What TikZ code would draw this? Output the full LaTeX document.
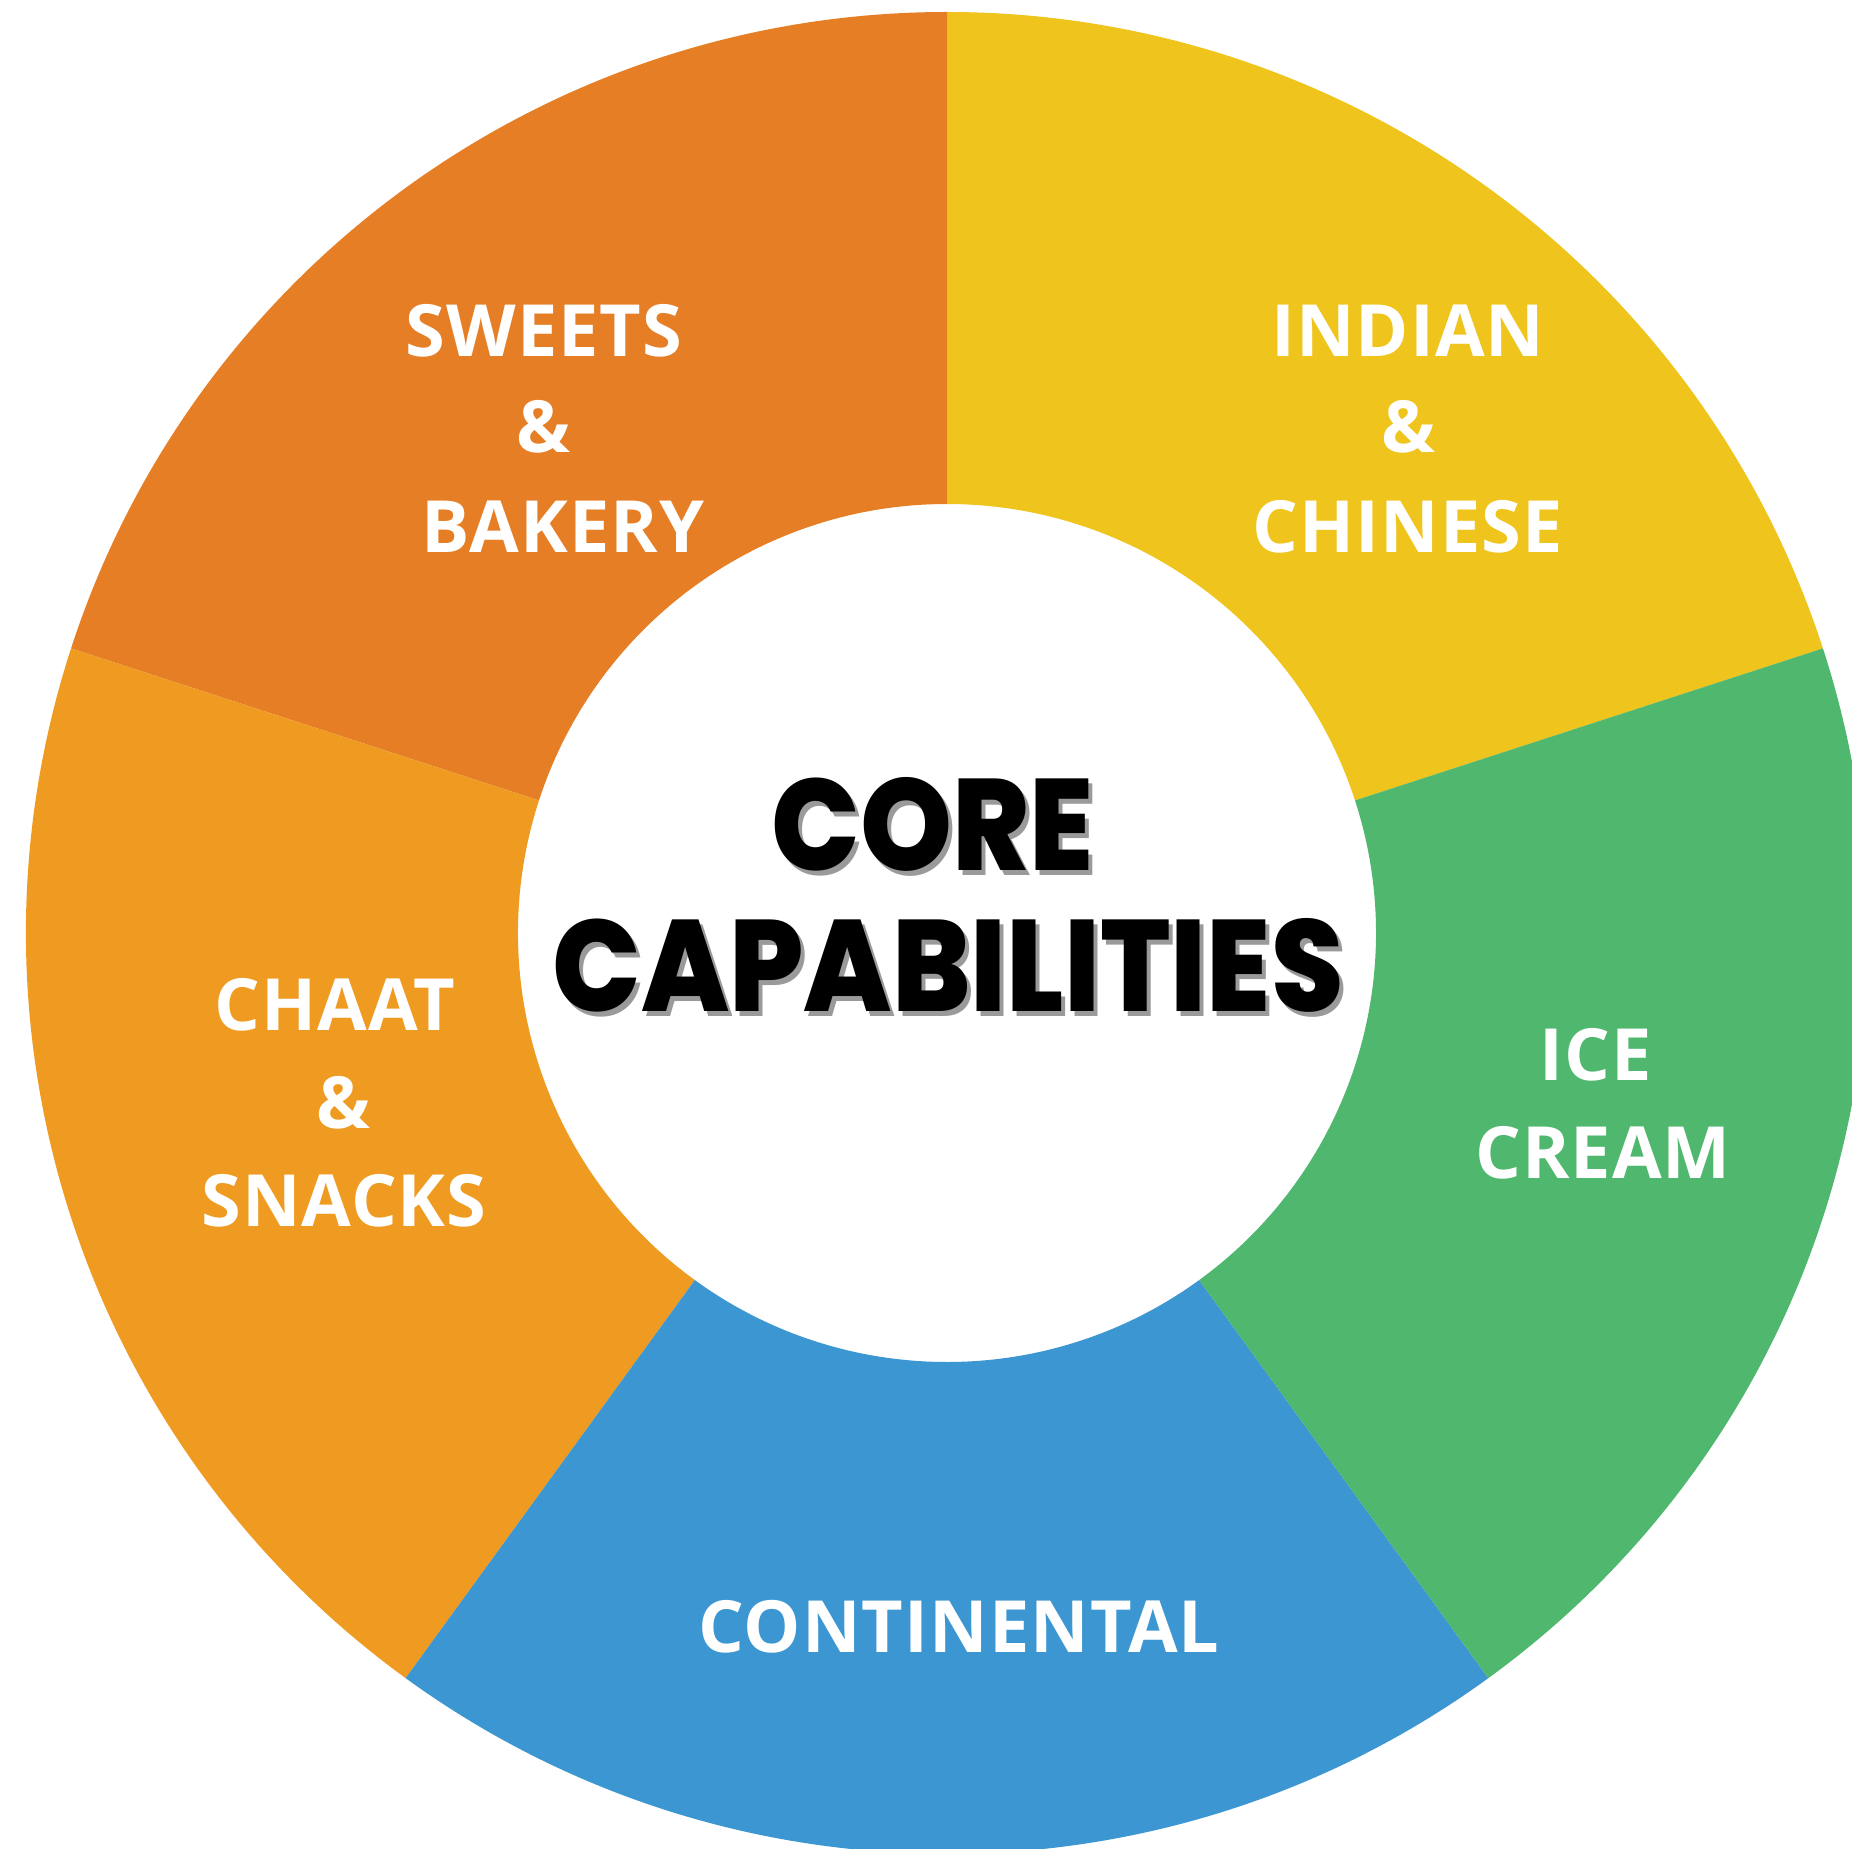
\documentclass[tikz,border=0pt]{standalone}
\usepackage{fontspec}
\setmainfont{Open Sans}
\newfontfamily\labelfont{Open Sans}[LetterSpace=1.5]
\IfFontExistsTF{Poppins ExtraBold}
    {\newfontfamily\corefont{Poppins ExtraBold}[FakeStretch=0.9,BoldFont={Poppins ExtraBold}]}
    {\newfontfamily\corefont{Poppins Black}[FakeStretch=0.86,BoldFont={Poppins Black}]}
\usepackage{xcolor}
\definecolor{sweetsorange}{HTML}{E57E25}
\definecolor{indianyellow}{HTML}{EFC41C}
\definecolor{icegreen}{HTML}{4FB86E}
\definecolor{contblue}{HTML}{3B96D1}
\definecolor{chaatorange}{HTML}{EF9B22}
\definecolor{shadowgrey}{HTML}{9A9A9A}
\newcommand{\ringpart}[3] {
    \fill[#3] (#1:921) arc (#1:#2:921) -- (#2:429) arc (#2:#1:429) -- cycle;
}
\newcommand{\shadowed}[1]{%
    \makebox[0pt][l]{\kern2pt\raisebox{-2.5pt}{\textcolor{shadowgrey}{#1}}}#1%
}
\tikzset{
    lbl/.style={
        text=white,
        inner sep=0pt,
        anchor=center,
        font=\labelfont\bfseries\fontsize{36}{40}\selectfont
    },
    core/.style={
        text=black,
        inner sep=0pt,
        anchor=center,
        font=\corefont\bfseries\fontsize{65}{70}\selectfont
    }
}
\begin{document}
\begin{tikzpicture}[x=0.5pt,y=0.5pt]
    \useasboundingbox (-947,-915) rectangle (905,933);
    \fill[white] (-947,-915) rectangle (905,933);
    % ring
    \ringpart{18}{90}{indianyellow}
    \ringpart{90}{162}{sweetsorange}
    \ringpart{162}{234}{chaatorange}
    \ringpart{234}{306}{contblue}
    \ringpart{306}{378}{icegreen}
    % labels
    \node[lbl] (sweets) at (-403,602) {SWEETS};
    \node[lbl] (sweetsamp) at (-403,506) {\&};
    \node[lbl] (bakery) at (-384,406) {BAKERY};
    \node[lbl] (indian) at (461,602) {INDIAN};
    \node[lbl] (indianamp) at (461,506) {\&};
    \node[lbl] (chinese) at (461,406) {CHINESE};
    \node[lbl] (ice) at (649,-122) {ICE};
    \node[lbl] (cream) at (656,-220) {CREAM};
    \node[lbl] (chaat) at (-612,-72) {CHAAT};
    \node[lbl] (chaatamp) at (-603,-170) {\&};
    \node[lbl] (snacks) at (-603,-268) {SNACKS};
    \node[lbl] (continental) at (12,-694) {CONTINENTAL};
    % centre
    \node[core] (corea) at (-14,106) {\shadowed{CORE}};
    \node[core] (coreb) at (1,-35) {\shadowed{CAPABILITIES}};
\end{tikzpicture}
\end{document}
